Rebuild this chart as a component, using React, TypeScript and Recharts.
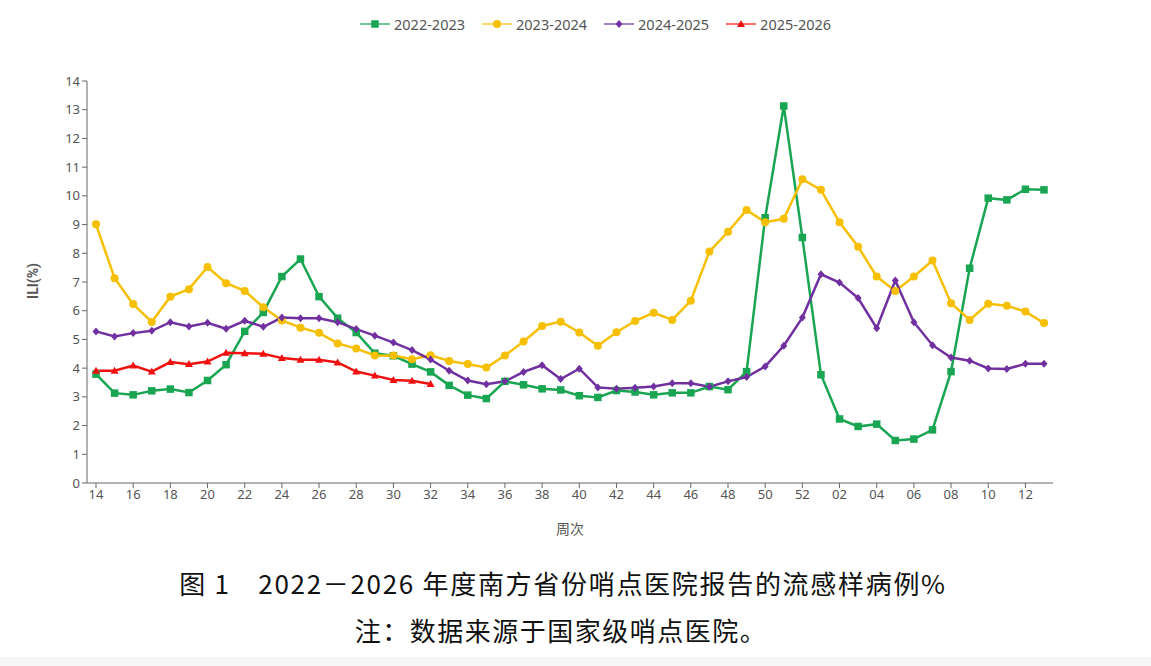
import React from "react"
import { LineChart, Line, XAxis, YAxis, Legend } from "recharts"

// week numbers along the x axis (season runs wk14 -> wk13 of the next year)
const weeks = [
  "14", "15", "16", "17", "18", "19", "20", "21", "22", "23", "24", "25", "26",
  "27", "28", "29", "30", "31", "32", "33", "34", "35", "36", "37", "38", "39",
  "40", "41", "42", "43", "44", "45", "46", "47", "48", "49", "50", "51", "52",
  "01", "02", "03", "04", "05", "06", "07", "08", "09", "10", "11", "12", "13",
]

const s2022 = [
  3.79, 3.13, 3.07, 3.21, 3.27, 3.15, 3.57, 4.12, 5.28, 5.94, 7.19, 7.8, 6.49,
  5.74, 5.24, 4.52, 4.43, 4.14, 3.87, 3.4, 3.06, 2.94, 3.54, 3.42, 3.28, 3.24,
  3.04, 2.98, 3.22, 3.17, 3.07, 3.14, 3.14, 3.36, 3.25, 3.88, 9.24, 13.13, 8.55,
  3.77, 2.23, 1.97, 2.05, 1.48, 1.53, 1.85, 3.88, 7.48, 9.92, 9.86, 10.23, 10.21,
]

const s2023 = [
  9.01, 7.13, 6.23, 5.61, 6.49, 6.75, 7.52, 6.96, 6.69, 6.12, 5.66, 5.41, 5.23,
  4.86, 4.68, 4.44, 4.44, 4.31, 4.45, 4.25, 4.14, 4.02, 4.44, 4.93, 5.47, 5.62,
  5.24, 4.78, 5.25, 5.64, 5.93, 5.68, 6.35, 8.06, 8.75, 9.51, 9.08, 9.2, 10.58,
  10.21, 9.08, 8.23, 7.19, 6.69, 7.19, 7.75, 6.26, 5.68, 6.24, 6.17, 5.97, 5.57,
]

const s2024 = [
  5.28, 5.1, 5.22, 5.3, 5.6, 5.45, 5.58, 5.37, 5.65, 5.44, 5.76, 5.74, 5.74,
  5.6, 5.36, 5.13, 4.89, 4.63, 4.3, 3.91, 3.57, 3.44, 3.54, 3.87, 4.1, 3.62,
  3.98, 3.33, 3.28, 3.32, 3.36, 3.47, 3.47, 3.35, 3.54, 3.69, 4.06, 4.78, 5.76,
  7.27, 6.98, 6.44, 5.39, 7.05, 5.6, 4.8, 4.37, 4.26, 3.99, 3.97, 4.15, 4.15,
]

// current season, reported up to week 32
const s2025 = [
  3.91, 3.91, 4.09, 3.88, 4.21, 4.14, 4.23, 4.54, 4.52, 4.5, 4.35, 4.29, 4.29,
  4.2, 3.88, 3.74, 3.59, 3.56, 3.45,
]

const yTicks = [0, 1, 2, 3, 4, 5, 6, 7, 8, 9, 10, 11, 12, 13, 14]

const data = weeks.map((w, i) => ({
  week: w,
  s2022: s2022[i],
  s2023: s2023[i],
  s2024: s2024[i],
  s2025: i < s2025.length ? s2025[i] : null,
}))

const GREEN = "#19a552"
const YELLOW = "#f6bf00"
const PURPLE = "#7030a0"
const RED = "#f01010"

const FONT = "'Noto Sans', 'Noto Sans CJK SC', sans-serif"

type Shape = "square" | "circle" | "diamond" | "triangle"

function marker(shape: Shape, color: string, x: number, y: number, key?: string) {
  if (shape === "square") return <rect key={key} x={x - 3.75} y={y - 3.75} width={7.5} height={7.5} fill={color} />
  if (shape === "circle") return <circle key={key} cx={x} cy={y} r={4} fill={color} />
  if (shape === "diamond")
    return <polygon key={key} points={`${x},${y - 4} ${x + 3.5},${y} ${x},${y + 4} ${x - 3.5},${y}`} fill={color} />
  return <polygon key={key} points={`${x},${y - 4} ${x + 4},${y + 3} ${x - 4},${y + 3}`} fill={color} />
}

function makeDot(shape: Shape, color: string, prefix: string) {
  return (props: any) => {
    const { cx, cy, index } = props
    if (cx == null || cy == null || props.value == null) return <g key={`${prefix}-${index}`} />
    return marker(shape, color, cx, cy, `${prefix}-${index}`)
  }
}

const legendItems: { name: string; color: string; shape: Shape }[] = [
  { name: "2022-2023", color: GREEN, shape: "square" },
  { name: "2023-2024", color: YELLOW, shape: "circle" },
  { name: "2024-2025", color: PURPLE, shape: "diamond" },
  { name: "2025-2026", color: RED, shape: "triangle" },
]

function LegendContent() {
  return (
    <div style={{ display: "flex", gap: 17, fontFamily: FONT, fontSize: 14.5, color: "#555" }}>
      {legendItems.map((it) => (
        <div key={it.name} style={{ display: "flex", alignItems: "center", gap: 4 }}>
          <svg width={30} height={14}>
            <line x1={0} y1={7} x2={30} y2={7} stroke={it.color} strokeWidth={2} strokeOpacity={0.6} />
            {marker(it.shape, it.color, 15, 7)}
          </svg>
          <span>{it.name}</span>
        </div>
      ))}
    </div>
  )
}

function YLabel() {
  return (
    <text x={33} y={281} transform="rotate(-90 33 281)" textAnchor="middle" dominantBaseline="central"
      fontFamily="Roboto, 'Noto Sans', sans-serif" fontSize={14} fontWeight={700} fill="#555">
      ILI(%)
    </text>
  )
}

export default function App() {
  const tick = { fontSize: 13, fill: "#555", fontFamily: FONT }
  const caption = {
    position: "absolute" as const, left: 0, textAlign: "center" as const,
    fontFamily: "'Noto Sans CJK SC', sans-serif", fontSize: 26, lineHeight: "36px", color: "#111",
  }
  return (
    <div style={{ position: "absolute", left: 0, top: 0, width: 1151, height: 666, background: "#fff", fontFamily: FONT }}>
      <LineChart width={1151} height={545} data={data} margin={{ top: 81, right: 98, bottom: 0, left: 0 }}>
        <XAxis dataKey="week" interval={1} tick={tick} stroke="#666" tickSize={5}
          padding={{ left: 9, right: 9 }} height={62}
          label={{ value: "周次", position: "insideBottom", offset: 11, fontSize: 14, fill: "#555", fontFamily: FONT }} />
        <YAxis domain={[0, 14]} ticks={yTicks} interval={0} width={87} tick={tick} stroke="#666" tickSize={5}
          label={<YLabel />} />
        <Legend verticalAlign="middle" align="center" layout="horizontal" content={<LegendContent />}
          wrapperStyle={{ top: 14, left: 360, width: 520 }} />
        <Line dataKey="s2022" name="2022-2023" stroke={GREEN} strokeWidth={2.5} dot={makeDot("square", GREEN, "g")} activeDot={false} isAnimationActive={false} />
        <Line dataKey="s2023" name="2023-2024" stroke={YELLOW} strokeWidth={2.5} dot={makeDot("circle", YELLOW, "y")} activeDot={false} isAnimationActive={false} />
        <Line dataKey="s2024" name="2024-2025" stroke={PURPLE} strokeWidth={2.5} dot={makeDot("diamond", PURPLE, "p")} activeDot={false} isAnimationActive={false} />
        <Line dataKey="s2025" name="2025-2026" stroke={RED} strokeWidth={2.5} dot={makeDot("triangle", RED, "r")} activeDot={false} isAnimationActive={false} />
      </LineChart>
      <div style={{ ...caption, top: 565, width: 1126, letterSpacing: 1.7 }}>
        图 1　2022－2026 年度南方省份哨点医院报告的流感样病例%
      </div>
      <div style={{ ...caption, top: 612, width: 1122, letterSpacing: 1.5 }}>
        注：数据来源于国家级哨点医院。
      </div>
      <div style={{ position: "absolute", left: 0, top: 657, width: 1151, height: 9, background: "#f6f6f6" }} />
    </div>
  )
}
